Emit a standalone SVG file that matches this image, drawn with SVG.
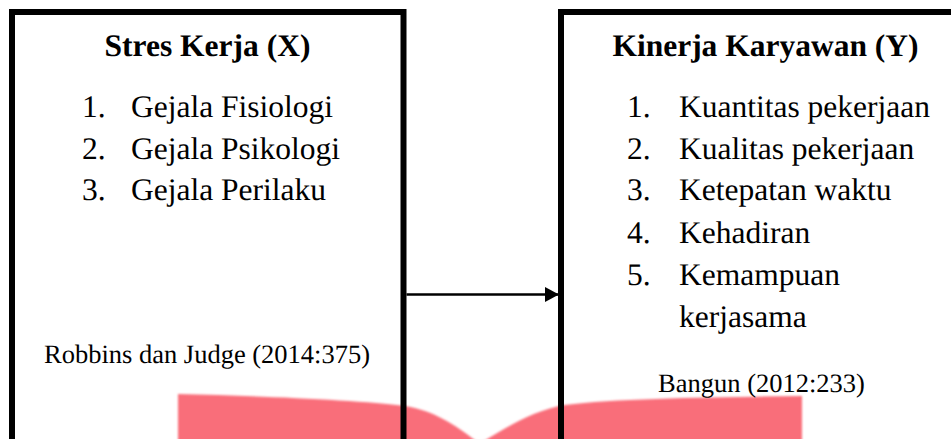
<svg xmlns="http://www.w3.org/2000/svg" width="951" height="439" viewBox="0 0 951 439">
  <defs>
    <style>
      text { text-rendering: geometricPrecision; }
      .box { fill: none; stroke: #000; stroke-width: 6; }
      .title { font-family: "Liberation Serif", "Times New Roman", serif; font-weight: bold; font-size: 31.5px; fill: #000; text-anchor: middle; }
      .entry { font-family: "Liberation Serif", "Times New Roman", serif; font-weight: normal; font-size: 31.5px; fill: #000; }
      .ref { font-family: "Liberation Serif", "Times New Roman", serif; font-size: 26.5px; fill: #000; text-anchor: middle; }
      .edge { stroke: #000; stroke-width: 2.5; fill: none; }
      .mark { fill: #F96E7A; }
    </style>
    <filter id="soft" x="-5%" y="-20%" width="110%" height="140%">
      <feGaussianBlur stdDeviation="0.8"/>
    </filter>
    <marker id="arrowhead" markerWidth="14" markerHeight="15" refX="13" refY="7.5" orient="auto" markerUnits="userSpaceOnUse">
      <polygon points="0,0 14,7.5 0,15" fill="#000"/>
    </marker>
  </defs>

  <rect width="951" height="439" fill="#fff"/>

  <!-- red emblem at the bottom edge -->
  <g id="emblem" filter="url(#soft)">
    <path class="mark" d="M178,394 C260,396 360,400 405,406 C435,411 455,425 476,441 L178,441 Z"/>
    <path class="mark" d="M484,441 C510,425 535,410 565,405 C620,398 720,397 802,396 L802,441 Z"/>
  </g>

  <g id="node-stres-kerja">
    <rect class="box" x="12" y="12" width="391.5" height="460"/>
    <text class="title" x="207.5" y="56">Stres Kerja (X)</text>
    <g class="entry">
      <text x="82" y="117">1.</text>
      <text x="131" y="117">Gejala Fisiologi</text>
      <text x="82" y="158.5">2.</text>
      <text x="131" y="158.5">Gejala Psikologi</text>
      <text x="82" y="200">3.</text>
      <text x="131" y="200">Gejala Perilaku</text>
    </g>
    <text class="ref" x="207" y="363">Robbins dan Judge (2014:375)</text>
  </g>

  <g id="node-kinerja-karyawan">
    <rect class="box" x="561" y="12" width="410" height="460"/>
    <text class="title" x="765.5" y="56">Kinerja Karyawan (Y)</text>
    <g class="entry">
      <text x="627" y="117">1.</text>
      <text x="679" y="117">Kuantitas pekerjaan</text>
      <text x="627" y="158.5">2.</text>
      <text x="679" y="158.5">Kualitas pekerjaan</text>
      <text x="627" y="200">3.</text>
      <text x="679" y="200">Ketepatan waktu</text>
      <text x="627" y="242.5">4.</text>
      <text x="679" y="242.5">Kehadiran</text>
      <text x="627" y="284.5">5.</text>
      <text x="679" y="284.5">Kemampuan</text>
      <text x="679" y="326.5">kerjasama</text>
    </g>
    <text class="ref" x="761.5" y="391.5">Bangun (2012:233)</text>
  </g>

  <g id="connectors">
    <line class="edge" x1="406.5" y1="294.5" x2="558" y2="294.5" marker-end="url(#arrowhead)"/>
  </g>
</svg>
